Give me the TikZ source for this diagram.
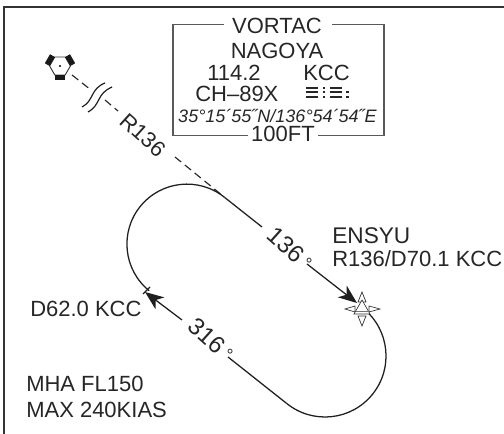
\documentclass[tikz,border=0pt]{standalone}
\usepackage{fontspec}
\setmainfont{Liberation Sans}
\usetikzlibrary{arrows.meta}
\tikzset{
 lab/.style={inner sep=0pt,font=\fontsize{16.5}{18}\selectfont,text=black!85},
 biglab/.style={lab,font=\fontsize{18}{20}\selectfont,rotate=-42},
 track/.style={draw=black!88,line width=0.95pt},
 thin line/.style={draw=black!65,line width=0.9pt},
 dashline/.style={draw=black!85,line width=0.85pt,dash pattern=on 6pt off 3.5pt},
 sym/.style={draw=black!80,line width=0.5pt,line join=miter},
 tip/.style={-{Stealth[length=14pt,width=11pt,inset=4pt]}},
}
\newcommand{\smalldeg}{\,\raisebox{2pt}{\fontsize{13}{13}\selectfont °}}
\begin{document}
\begin{tikzpicture}[x=0.75pt,y=0.75pt]
\useasboundingbox (0,0) rectangle (504,434);
% frame (reference y measured downward: y' = 434 - y)
\coordinate (fbl) at (4,0);
\coordinate (ftl) at (4,427);
\coordinate (ftr) at (504,427);
\draw[draw=black!80,line width=1.1pt] (fbl) -- (ftl) -- (ftr);
% frequency box
\coordinate (b1) at (224,409.5);
\coordinate (b2) at (173,409.5);
\coordinate (b3) at (173,298.5);
\coordinate (b4) at (248,298.5);
\coordinate (b5) at (332,409.5);
\coordinate (b6) at (384,409.5);
\coordinate (b7) at (384,298.5);
\coordinate (b8) at (318,298.5);
\draw[thin line] (b1) -- (b2) -- (b3) -- (b4);
\draw[thin line] (b5) -- (b6) -- (b7) -- (b8);
\node[lab,anchor=base] (vortac) at (277,400) {VORTAC};
\node[lab,anchor=base] (nagoya) at (277,375) {NAGOYA};
\node[lab,anchor=base west] (freq) at (207,353) {114.2};
\node[lab,anchor=base west] (kcc) at (303,353) {KCC};
\node[lab,anchor=base west] (ch) at (195,332) {CH–89X};
\node[lab,anchor=base,font=\fontsize{13.5}{14}\itshape] (latlon) at (277.5,311) {35°15´55˝N/136°54´54˝E};
\node[lab,anchor=base] (elev) at (283,292) {100FT};
% morse code
\foreach \x in {306,330}{
  \foreach \y in {346,341.5,337}{\fill[black!85] (\x,\y-1) rectangle (\x+12,\y+1);}
}
\foreach \y in {346,341.5,337}{\fill[black!85] (322.5,\y-1) rectangle (325,\y+1);}
\foreach \y in {341.5,337}{\fill[black!85] (346,\y-1) rectangle (348.5,\y+1);}
% VORTAC symbol
\coordinate (vor) at (60,368);
\draw[sym,line width=0.7pt] (vor) ++(0:10.4) -- ++(120:10.4) -- ++(180:10.4) -- ++(240:10.4) -- ++(300:10.4) -- ++(0:10.4) -- cycle;
\foreach \a in {270,30,150}{
  \fill[black!90,rotate around={\a+90:(vor)}] (vor) ++(-5.2,-9) rectangle ++(10.4,-5.5);
}
\fill[black] (vor) circle (1.1);
% radial R136
\coordinate (r1) at (72,359);
\coordinate (r2) at (91,344);
\coordinate (r3) at (105,334);
\coordinate (r4) at (118,323);
\coordinate (r5) at (175,277);
\coordinate (r6) at (223,238);
\draw[dashline] (r1) -- (r2);
\draw[dashline] (r3) -- (r4);
\draw[dashline] (r5) -- (r6);
\draw[track,line width=0.9pt] (82,327) .. controls (94,333) and (90,345) .. (105,351);
\draw[track,line width=0.9pt] (88,322) .. controls (101,329) and (96,340) .. (112,347);
\node[lab,rotate=-42] (rlabel) at (143,299) {R136};
% holding pattern
\coordinate (c1top) at (224.7,236.5);
\coordinate (c1bot) at (149.2,141.5);
\coordinate (c2top) at (363.4,125.4);
\coordinate (c2bot) at (286.6,30.6);
\coordinate (t1) at (262,207);
\coordinate (t2) at (307,170);
\coordinate (fixp) at (357,131);
\coordinate (t3) at (182,114);
\coordinate (t4) at (228,77);
\coordinate (holdin) at (145,142);
\draw[track] (c1top) arc[start angle=51,end angle=231,radius=60];
\draw[track] (c2top) arc[start angle=51,end angle=-129,radius=61];
\draw[track] (c1top) -- (t1);
\draw[track,tip] (t2) -- (fixp);
\draw[track,tip] (t3) -- (holdin);
\draw[track] (t4) -- (c2bot);
\coordinate (tk1) at (143,140);
\coordinate (tk2) at (150,147);
\draw[track] (tk1) -- (tk2);
\node[biglab] (deg136) at (290,185.3) {136\smalldeg};
\node[biglab] (deg316) at (211,94.3) {316\smalldeg};
% fix symbol
\draw[sym,fill=white] (362,142) -- (358,132) -- (366,132) -- cycle;
\draw[sym,fill=white] (362,108) -- (358,118) -- (366,118) -- cycle;
\draw[sym,fill=white] (345,125) -- (355,128) -- (355,122) -- cycle;
\draw[sym,fill=white] (380,125) -- (369,128) -- (369,122) -- cycle;
\draw[sym,fill=white] (362,134) -- (354,120) -- (370,120) -- cycle;
\draw[sym,draw=black!55] (355.5,122.5) -- (368.5,122.5);
% labels
\node[lab,anchor=base west,font=\fontsize{17}{20}\selectfont] (ensyu) at (332,190) {ENSYU};
\node[lab,anchor=base west] (rd) at (332,167) {R136/D70.1 KCC};
\node[lab,anchor=base west] (d62) at (30,117) {D62.0 KCC};
\node[lab,anchor=base west] (mha) at (26,42) {MHA FL150};
\node[lab,anchor=base west] (maxs) at (26,16) {MAX 240KIAS};
\end{tikzpicture}
\end{document}
